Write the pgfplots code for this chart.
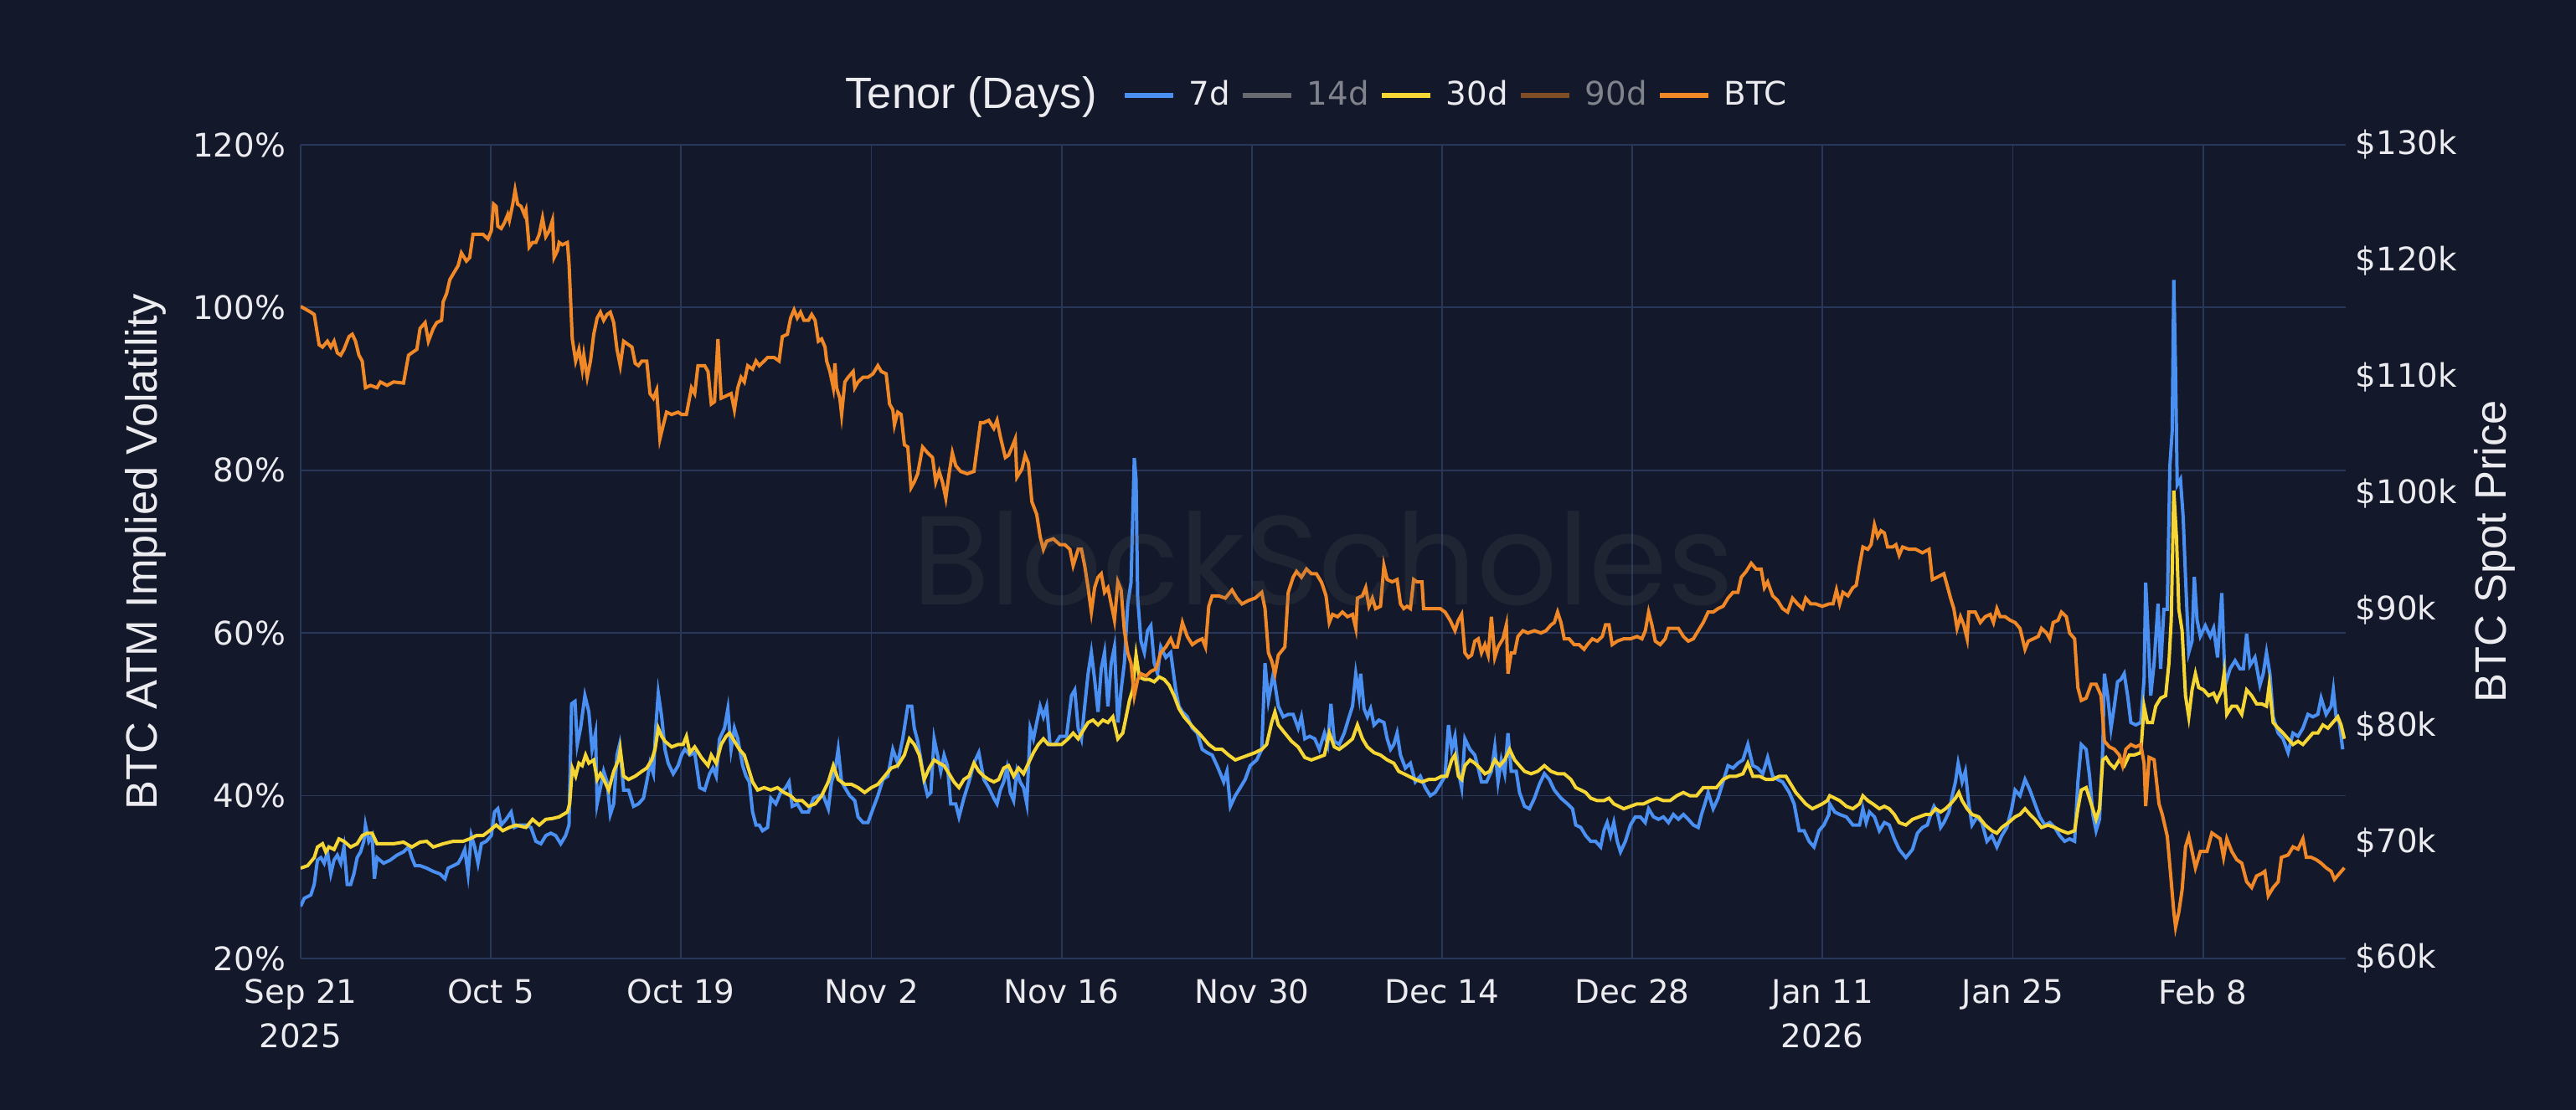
\documentclass[border=0pt]{standalone}
\usepackage{fontspec}
\setmainfont{DejaVu Sans}
\newfontfamily\libsans{Liberation Sans}
\newfontfamily\popfont{Poppins}
\usepackage{pgfplots}
\pgfplotsset{compat=1.18}
\usepackage{pgfplotstable}
\usetikzlibrary{backgrounds}
\definecolor{bg}{RGB}{19,25,42}
\definecolor{gridc}{RGB}{40,54,90}
\definecolor{c7}{RGB}{74,143,242}
\definecolor{c14}{RGB}{105,105,112}
\definecolor{c30}{RGB}{246,214,52}
\definecolor{c90}{RGB}{128,78,36}
\definecolor{cbtc}{RGB}{240,136,40}
\definecolor{legrey}{RGB}{128,130,140}
\definecolor{txt}{RGB}{236,236,240}
\definecolor{wm}{RGB}{100,100,104}
\newcommand\tickfont{\fontsize{9.7}{13.25}\selectfont}
\newcommand\titlefont{\libsans\fontsize{13.1}{15}\selectfont}

\pgfplotstableread{
x y
0 116.1
0.75 115.6
1.0 115.4
1.36 112.8
1.61 112.6
1.97 113.1
2.22 112.6
2.46 113.1
2.70 112.1
2.95 111.9
3.19 112.4
3.56 113.5
3.80 113.7
4.04 113.1
4.29 111.9
4.53 111.4
4.77 109.1
5.14 109.3
5.62 109.1
5.87 109.6
6.36 109.3
6.84 109.6
7.57 109.5
7.94 111.9
8.18 112.1
8.55 112.4
8.79 114.2
9.16 114.7
9.40 113.1
9.76 114.2
10.01 114.7
10.37 114.9
10.49 116.5
10.74 117.2
10.98 118.4
11.23 118.9
11.59 119.6
11.83 120.7
12.20 120.0
12.44 120.3
12.69 122.3
13.05 122.3
13.42 122.3
13.78 121.9
14.03 122.6
14.20 124.9
14.39 124.7
14.51 123.0
14.76 122.8
15.00 123.3
15.24 124.0
15.36 123.5
15.61 124.9
15.78 126.1
15.97 124.9
16.22 124.7
16.46 124.0
16.58 124.4
16.82 121.2
17.07 121.6
17.31 121.6
17.56 122.3
17.80 123.7
18.04 122.1
18.29 122.6
18.53 123.5
18.65 120.3
18.90 120.9
19.02 121.6
19.26 121.4
19.63 121.6
19.75 119.8
19.99 113.3
20.24 111.4
20.48 112.4
20.72 110.7
20.84 111.9
21.09 110.0
21.33 111.4
21.57 113.7
21.82 115.1
22.06 115.6
22.30 114.9
22.55 115.4
22.79 115.6
23.04 114.7
23.28 112.4
23.52 111.0
23.77 113.1
24.13 112.8
24.38 112.6
24.62 111.2
24.86 111.0
25.11 111.4
25.47 111.4
25.71 108.6
25.96 108.2
26.20 108.9
26.44 104.7
26.69 105.9
26.93 107.0
27.30 106.8
27.78 107.0
28.03 106.8
28.39 106.8
28.76 109.1
29.00 108.6
29.24 111.0
29.73 111.0
29.98 110.5
30.22 107.7
30.46 107.9
30.71 113.3
30.95 108.2
31.31 108.4
31.68 108.6
31.92 107.2
32.17 109.1
32.41 110.0
32.65 109.6
32.90 111.0
33.26 110.7
33.51 111.4
33.75 111.0
34.11 111.4
34.36 111.7
34.85 111.7
35.21 111.4
35.45 113.5
35.82 113.7
36.06 115.1
36.31 115.8
36.55 115.1
36.79 115.6
37.04 114.9
37.37 114.9
37.61 115.4
37.86 114.9
38.10 113.1
38.34 113.3
38.59 112.6
38.71 111.4
38.95 110.5
39.20 109.1
39.32 111.2
39.44 109.1
39.68 108.2
39.81 106.8
40.05 109.6
40.29 110.0
40.66 110.5
40.78 109.1
41.02 109.6
41.39 110.0
41.75 110.0
42.12 110.3
42.48 111.0
42.73 110.5
43.09 110.3
43.34 107.7
43.58 107.2
43.70 105.9
43.94 107.0
44.19 106.8
44.43 104.2
44.68 104.0
44.92 100.5
45.16 101.0
45.41 101.7
45.77 104.0
46.14 103.5
46.50 103.1
46.74 101.0
46.99 101.9
47.23 101.0
47.48 99.6
47.72 101.7
47.96 103.5
48.21 102.4
48.57 101.9
49.06 101.7
49.55 101.9
49.79 104.0
50.03 106.1
50.28 106.1
50.64 106.3
51.01 105.6
51.25 106.3
51.49 104.9
51.86 103.1
52.10 103.3
52.35 104.0
52.59 104.7
52.71 101.4
53.08 102.1
53.32 103.3
53.56 102.6
53.81 99.3
54.17 98.2
54.42 96.3
54.66 95.2
54.90 95.9
55.39 96.1
55.88 95.6
56.24 95.6
56.61 95.2
56.85 93.8
57.22 95.2
57.46 95.2
57.70 93.8
57.95 91.9
58.19 89.8
58.43 91.9
58.68 92.8
58.92 93.1
59.16 91.5
59.41 91.9
59.65 90.5
59.89 89.1
60.14 92.4
60.38 91.7
60.62 88.2
60.87 86.3
61.11 85.4
61.35 82.6
61.60 84.0
61.84 84.5
62.21 84.3
62.57 84.7
62.94 84.9
63.30 86.3
63.67 86.8
64.03 87.5
64.28 86.8
64.52 86.8
64.89 88.9
65.25 87.7
65.62 87.0
65.98 87.3
66.35 87.5
66.59 86.8
66.83 90.3
67.08 91.2
67.56 91.2
68.05 91.0
68.54 91.7
68.90 91.0
69.27 90.5
69.76 90.8
70.24 91.0
70.73 91.5
70.97 90.1
71.22 86.3
71.46 85.6
71.70 84.5
71.95 86.1
72.43 86.8
72.68 91.5
73.04 92.8
73.29 93.3
73.65 92.8
74.02 93.5
74.38 93.1
74.75 93.1
75.11 92.4
75.21 92.1
75.46 91.2
75.70 88.9
75.94 89.6
76.31 89.4
76.67 89.8
77.04 89.4
77.41 89.6
77.65 88.4
77.77 91.0
78.14 91.2
78.38 91.9
78.62 90.3
78.87 91.0
79.11 90.1
79.47 90.3
79.72 93.8
79.96 92.6
80.33 92.4
80.69 92.6
80.94 90.5
81.18 90.1
81.42 90.3
81.67 90.1
81.91 92.6
82.15 92.4
82.52 92.4
82.64 90.1
83.01 90.1
83.37 90.1
83.86 90.1
84.22 89.8
84.59 89.1
84.95 88.2
85.20 89.1
85.44 89.6
85.68 86.3
85.93 85.9
86.17 86.1
86.41 87.3
86.66 87.5
86.90 86.3
87.15 87.0
87.39 86.1
87.63 89.4
87.88 85.9
88.12 86.8
88.48 87.5
88.73 88.7
88.85 84.5
89.09 86.3
89.34 86.3
89.58 87.7
89.95 88.2
90.31 88.0
90.80 88.2
91.28 88.0
91.65 88.2
92.02 88.7
92.26 88.9
92.50 89.8
92.75 88.9
92.99 87.5
93.35 87.5
93.72 87.0
94.08 87.0
94.45 86.6
94.69 87.0
95.06 87.5
95.42 87.3
95.79 87.7
96.03 88.7
96.28 88.7
96.52 87.0
96.89 87.3
97.37 87.5
97.86 87.5
98.35 87.7
98.71 87.5
98.96 88.2
99.20 89.8
99.44 88.7
99.69 87.3
100.05 87.0
100.42 87.5
100.66 88.4
101.03 88.4
101.39 88.4
101.76 87.7
102.12 87.3
102.49 87.5
102.85 88.2
103.22 88.9
103.58 89.8
103.95 89.8
104.31 90.1
104.68 90.3
105.04 91.0
105.41 91.5
105.77 91.5
106.02 92.8
106.38 93.3
106.75 94.0
107.11 93.5
107.48 93.5
107.72 91.9
107.96 92.4
108.33 91.2
108.69 90.8
109.06 90.1
109.43 89.8
109.79 91.0
110.16 90.5
110.52 90.1
110.76 91.0
111.13 90.5
111.50 90.5
111.98 90.3
112.47 90.5
112.77 90.5
113.02 91.7
113.26 90.5
113.50 91.5
113.87 91.2
114.23 91.9
114.48 92.1
114.72 93.8
114.97 95.4
115.33 95.2
115.57 95.6
115.82 97.3
116.06 96.3
116.30 96.8
116.55 96.6
116.79 95.4
117.16 95.4
117.40 95.6
117.64 94.7
117.89 95.4
118.37 95.2
118.86 95.2
119.35 94.9
119.84 95.2
120.08 92.6
120.44 92.8
120.93 93.1
121.17 92.1
121.42 91.0
121.66 90.1
121.90 88.4
122.15 89.4
122.39 88.7
122.64 87.5
122.76 89.8
123.24 89.8
123.61 88.9
123.97 89.4
124.34 89.6
124.58 88.9
124.83 90.1
125.07 89.4
125.44 89.4
125.80 89.1
126.17 88.9
126.53 88.4
126.90 86.6
127.14 87.3
127.51 87.5
127.87 87.7
128.11 88.4
128.48 88.0
128.72 87.5
128.97 88.9
129.33 89.1
129.58 89.8
129.94 89.4
130.18 88.0
130.55 87.5
130.79 83.3
131.04 82.2
131.40 82.4
131.77 83.6
132.13 83.6
132.50 82.6
132.74 78.7
133.11 78.2
133.47 78.0
133.84 77.5
134.08 76.6
134.32 78.0
134.69 78.4
135.05 78.2
135.42 78.4
135.66 76.8
135.78 73.1
136.03 77.3
136.40 77.1
136.76 73.3
137.00 72.4
137.37 70.5
137.61 67.3
137.85 64.0
137.98 62.7
138.22 64.0
138.46 65.9
138.71 69.6
138.95 70.5
139.19 69.2
139.44 67.8
139.80 69.2
140.29 69.2
140.65 70.8
141.02 70.5
141.26 70.3
141.51 68.7
141.75 70.3
142.12 69.2
142.48 68.5
142.85 68.2
143.21 66.6
143.58 66.1
143.94 67.1
144.31 67.3
144.55 67.5
144.80 65.4
145.16 66.1
145.53 66.6
145.77 68.7
146.26 68.9
146.62 69.6
146.99 69.4
147.35 70.3
147.60 68.7
147.96 68.7
148.33 68.5
148.69 68.2
149.06 67.8
149.43 67.5
149.67 66.8
150.03 67.3
150.40 67.8
}\btc

\pgfplotstableread{
x y
0 26.4
0.27 27.4
0.75 27.8
1.0 29.1
1.24 32.1
1.49 32.4
1.73 31.7
1.97 33.1
2.22 30.4
2.46 32.1
2.70 32.7
2.95 31.7
3.19 33.7
3.43 29.1
3.68 29.1
3.92 30.4
4.16 32.4
4.41 33.1
4.65 34.4
4.77 36.4
5.02 34.4
5.26 35.1
5.43 29.8
5.62 32.4
6.11 31.7
6.60 32.1
7.09 32.7
7.57 33.1
7.94 33.7
8.18 32.4
8.43 31.4
8.79 31.4
9.28 31.1
9.76 30.7
10.25 30.4
10.62 29.8
10.86 31.1
11.23 31.4
11.59 31.7
11.83 32.4
12.08 33.4
12.32 30.4
12.56 35.1
12.81 33.7
13.05 31.7
13.30 34.1
13.66 34.4
14.03 35.1
14.27 38.0
14.51 38.4
14.76 36.4
15.12 37.1
15.49 38.0
15.73 36.1
16.10 36.4
16.58 36.4
16.95 36.1
17.31 34.4
17.68 34.1
18.04 35.1
18.41 35.4
18.77 35.1
19.14 34.1
19.50 35.1
19.75 36.4
19.94 51.3
20.19 51.6
20.36 46.3
20.60 48.3
20.92 52.3
21.21 50.3
21.45 45.7
21.70 47.7
21.82 39.0
22.06 41.0
22.30 43.0
22.55 41.7
22.79 37.7
23.04 39.0
23.28 45.0
23.47 46.3
23.77 40.7
24.13 40.7
24.50 38.7
24.86 39.0
25.23 39.7
25.47 41.7
25.71 44.0
25.96 42.7
26.13 48.3
26.32 52.6
26.57 49.7
26.81 45.7
27.05 44.0
27.42 42.7
27.78 43.7
28.03 45.0
28.27 45.7
28.64 45.0
29.00 45.3
29.37 41.0
29.73 40.7
30.10 42.7
30.34 43.4
30.58 42.4
30.83 47.0
31.19 48.3
31.44 50.7
31.68 45.7
31.92 48.3
32.17 47.0
32.53 43.7
32.78 42.4
33.02 41.7
33.26 38.0
33.51 36.4
33.75 36.4
33.99 35.7
34.36 36.1
34.60 39.7
34.97 39.0
35.33 40.4
35.70 41.0
35.94 41.7
36.18 38.7
36.55 39.0
36.91 38.0
37.37 38.0
37.74 39.7
38.10 40.0
38.47 40.0
38.83 38.4
39.07 41.7
39.32 43.0
39.56 45.7
39.81 41.7
40.05 41.0
40.41 40.0
40.78 39.4
41.02 37.4
41.39 36.7
41.75 36.7
42.12 38.4
42.48 40.0
42.85 42.0
43.21 42.4
43.58 45.7
43.94 44.0
44.31 47.0
44.68 51.0
44.97 51.0
45.16 48.3
45.41 46.7
45.65 44.4
45.89 41.7
46.14 40.0
46.38 40.4
46.62 47.0
46.87 45.0
47.11 43.0
47.35 45.0
47.60 43.7
47.84 39.0
48.21 39.0
48.45 37.4
48.81 39.7
49.18 41.7
49.55 44.0
49.91 45.3
50.28 42.0
50.64 41.0
51.01 39.7
51.25 39.0
51.49 40.7
51.74 41.7
51.98 43.4
52.22 40.4
52.47 39.4
52.71 43.0
52.95 41.7
53.20 41.0
53.44 39.0
53.69 48.3
53.93 47.0
54.17 49.0
54.42 51.0
54.66 49.7
54.90 51.0
55.15 46.3
55.51 46.3
55.88 47.3
56.36 47.3
56.73 52.3
56.97 53.0
57.22 48.3
57.46 47.0
57.70 51.0
57.95 55.0
58.19 57.6
58.43 54.3
58.68 50.3
58.92 55.6
59.16 57.6
59.41 51.0
59.65 56.3
59.89 58.3
60.14 49.0
60.38 53.0
60.62 56.3
60.87 63.6
61.11 66.2
61.35 81.5
61.48 78.9
61.60 64.3
61.84 59.0
62.09 57.6
62.33 60.3
62.57 60.9
62.82 56.3
63.06 55.0
63.30 58.3
63.67 57.0
64.03 57.6
64.40 53.0
64.64 51.0
64.89 50.3
65.25 49.7
65.62 48.3
65.98 47.7
66.35 45.7
66.71 45.3
67.08 45.0
67.44 43.7
67.69 42.7
67.93 41.7
68.17 43.0
68.42 38.7
68.78 40.0
69.15 41.0
69.51 42.0
69.88 43.7
70.36 44.4
70.73 45.7
70.97 56.3
71.22 51.7
71.58 55.0
71.95 51.0
72.31 49.7
72.68 50.0
73.04 50.0
73.41 48.3
73.65 49.7
73.90 47.0
74.26 47.3
74.63 47.0
74.97 45.7
75.34 47.7
75.58 46.3
75.82 51.3
76.07 46.7
76.43 46.3
76.80 47.7
77.16 49.7
77.41 51.0
77.65 55.0
77.89 52.3
78.01 55.0
78.26 50.7
78.50 49.7
78.74 50.7
78.99 48.7
79.35 49.3
79.72 49.0
79.96 47.0
80.21 45.7
80.45 46.3
80.69 47.7
80.94 45.0
81.30 43.4
81.67 44.0
82.03 41.7
82.40 42.4
82.76 41.0
83.13 40.0
83.49 40.4
83.86 41.4
84.22 42.4
84.47 48.7
84.71 45.7
84.95 47.3
85.20 43.0
85.44 41.0
85.68 47.0
86.05 45.7
86.41 45.0
86.66 43.4
86.90 41.7
87.27 41.7
87.63 43.0
87.88 46.0
88.12 41.7
88.36 44.4
88.61 42.7
88.85 47.7
89.09 43.0
89.46 43.0
89.70 40.4
90.07 38.7
90.43 38.4
90.80 39.7
91.16 41.4
91.53 42.7
91.89 42.0
92.26 40.7
92.75 39.7
93.23 39.0
93.60 38.4
93.84 36.4
94.21 36.1
94.57 35.1
94.94 34.4
95.30 34.4
95.67 33.7
95.91 35.7
96.15 36.7
96.40 35.1
96.64 36.7
96.89 34.4
97.13 33.1
97.49 34.4
97.86 36.4
98.22 37.4
98.59 37.4
98.95 36.7
99.20 38.4
99.56 37.4
99.93 37.1
100.29 37.4
100.66 36.7
101.02 37.7
101.39 37.1
101.76 37.7
102.12 37.1
102.49 36.4
102.85 36.1
103.09 37.7
103.34 39.0
103.58 40.4
103.95 38.4
104.31 39.7
104.68 41.7
105.04 43.7
105.41 43.4
105.77 44.0
106.14 44.4
106.50 46.3
106.87 43.7
107.23 43.4
107.60 42.7
107.96 44.7
108.33 42.4
108.69 42.0
109.06 41.7
109.55 40.4
109.91 39.0
110.28 35.7
110.64 35.7
111.01 34.4
111.37 33.7
111.74 35.7
112.10 36.4
112.47 37.7
112.53 39.0
112.90 38.0
113.26 37.7
113.75 37.4
114.23 36.4
114.72 36.4
114.97 38.4
115.21 36.7
115.45 38.0
115.82 37.4
116.18 35.7
116.55 36.7
116.91 36.4
117.28 34.7
117.64 33.4
118.13 32.4
118.62 33.4
118.98 35.4
119.35 36.1
119.71 36.4
119.96 37.7
120.20 38.7
120.44 38.0
120.69 36.1
120.93 36.7
121.30 38.0
121.54 40.0
121.78 41.7
121.98 44.0
122.27 41.7
122.51 43.0
122.76 39.0
123.00 36.4
123.37 37.4
123.73 36.7
124.10 34.4
124.46 35.1
124.83 33.7
125.19 35.1
125.56 36.1
125.92 38.4
126.17 40.7
126.53 40.0
126.90 42.0
127.26 40.7
127.63 39.0
127.99 37.4
128.36 36.4
128.72 36.7
129.09 36.1
129.45 35.1
129.82 34.4
130.18 34.7
130.55 34.4
130.79 41.7
131.04 46.3
131.40 45.7
131.65 42.4
131.89 37.7
132.13 35.7
132.38 37.1
132.62 45.7
132.74 55.0
132.98 52.3
133.23 48.3
133.47 51.0
133.71 54.0
133.96 54.3
134.20 55.0
134.45 52.3
134.69 49.0
135.05 48.7
135.42 49.0
135.66 54.3
135.78 66.2
135.91 61.6
136.15 52.3
136.40 56.3
136.69 63.6
136.88 55.6
137.12 62.9
137.37 62.9
137.56 80.5
137.73 84.8
137.85 103.4
137.98 92.1
138.10 78.2
138.34 78.9
138.54 74.2
138.71 66.9
138.95 57.6
139.19 59.0
139.36 66.9
139.56 61.6
139.80 59.6
140.17 60.9
140.53 59.6
140.78 60.6
141.07 57.0
141.38 64.9
141.63 53.6
141.99 55.6
142.36 56.6
142.72 55.6
142.97 55.6
143.21 59.9
143.45 56.0
143.82 57.0
144.19 53.6
144.43 55.0
144.67 57.6
144.92 55.0
145.16 49.7
145.53 47.7
145.89 47.0
146.26 45.3
146.62 47.7
146.99 47.3
147.35 48.3
147.72 50.0
148.08 49.7
148.45 50.0
148.69 52.0
149.06 50.0
149.43 51.0
149.59 53.0
149.79 49.7
150.03 49.0
150.28 45.7
}\sevend

\pgfplotstableread{
x y
0 31.1
0.51 31.4
1.0 32.4
1.24 33.7
1.61 34.1
1.85 33.1
2.09 33.7
2.46 33.4
2.82 34.7
3.19 34.4
3.68 33.7
4.16 34.1
4.53 35.1
4.89 35.4
5.26 35.4
5.62 34.1
6.11 34.1
6.84 34.1
7.57 34.3
8.18 33.7
8.79 34.3
9.28 34.4
9.76 33.7
10.49 34.1
11.23 34.4
11.96 34.4
12.44 34.7
12.93 35.1
13.42 35.1
13.90 35.7
14.39 36.4
14.88 35.7
15.36 36.1
15.85 36.4
16.58 36.1
17.07 37.1
17.56 36.4
18.04 37.1
18.53 37.2
19.02 37.4
19.63 38.0
19.80 39.0
19.99 43.4
20.24 42.4
20.48 44.0
20.72 43.7
20.97 45.0
21.21 44.0
21.57 44.4
21.82 42.0
22.06 42.7
22.30 42.0
22.67 40.7
23.04 43.0
23.40 44.4
23.52 45.7
23.77 42.4
24.13 42.0
24.62 42.4
25.11 43.0
25.47 43.4
25.84 44.4
26.08 45.7
26.32 48.3
26.57 47.3
26.81 46.7
27.30 46.0
27.78 46.3
28.15 46.3
28.39 47.3
28.64 45.3
29.00 46.0
29.49 44.7
29.98 43.7
30.22 45.0
30.58 44.0
30.95 46.3
31.31 47.3
31.56 47.7
31.92 46.7
32.29 45.7
32.65 45.0
33.02 43.0
33.26 41.7
33.63 40.7
34.11 41.0
34.60 40.7
35.09 41.0
35.57 40.4
36.06 40.0
36.43 39.4
36.91 39.4
37.37 38.7
37.86 39.0
38.34 40.0
38.83 41.7
39.20 43.7
39.56 42.0
40.05 41.4
40.54 41.4
41.02 41.0
41.51 40.4
42.00 41.0
42.48 41.4
42.97 42.4
43.46 43.4
43.94 43.7
44.43 45.0
44.80 47.0
45.16 46.3
45.53 45.0
45.89 42.0
46.26 43.4
46.62 44.4
46.99 44.0
47.35 43.7
47.72 42.7
48.08 41.7
48.45 41.0
48.81 42.0
49.18 42.4
49.55 44.0
49.91 43.0
50.28 42.4
50.64 42.0
51.01 41.7
51.37 42.0
51.74 43.4
52.10 43.7
52.47 42.4
52.83 43.4
53.20 42.7
53.56 44.0
53.93 45.3
54.29 46.3
54.66 47.0
55.02 46.3
55.51 46.3
56.00 46.3
56.48 47.0
56.85 47.7
57.22 47.0
57.58 48.0
57.95 49.0
58.31 49.3
58.68 48.7
59.04 49.3
59.41 49.0
59.77 49.7
60.14 47.0
60.50 47.7
60.75 49.7
60.99 51.7
61.23 53.0
61.48 57.3
61.72 54.6
62.09 54.3
62.45 54.3
62.82 54.0
63.18 54.6
63.55 54.3
63.91 53.6
64.28 52.3
64.64 50.7
65.01 49.7
65.37 49.0
65.74 48.3
66.10 47.7
66.47 47.0
66.83 46.3
67.32 45.7
67.81 45.7
68.29 45.0
68.78 44.4
69.27 44.7
69.76 45.0
70.24 45.3
70.73 45.7
71.09 46.3
71.46 49.0
71.70 50.3
71.95 48.7
72.43 47.7
72.92 46.7
73.41 46.0
73.90 44.7
74.38 44.4
74.87 44.7
75.34 45.0
75.70 47.7
76.07 46.0
76.43 45.7
76.92 46.3
77.41 47.0
77.77 48.7
78.14 47.0
78.50 46.0
78.99 45.3
79.47 45.0
79.96 44.4
80.45 44.0
80.81 43.0
81.18 42.7
81.54 42.4
82.03 42.0
82.52 41.7
83.01 42.0
83.49 42.0
83.98 42.4
84.34 42.4
84.71 44.4
84.95 45.0
85.20 42.4
85.44 42.0
85.68 43.7
86.05 44.4
86.41 44.0
86.78 43.4
87.15 42.7
87.51 43.0
87.88 44.4
88.24 43.7
88.61 44.4
88.97 45.7
89.34 44.4
89.70 43.7
90.07 43.0
90.55 42.7
91.04 43.0
91.53 43.7
92.02 43.0
92.50 42.7
92.99 42.7
93.48 42.0
93.84 41.0
94.21 40.7
94.57 40.4
94.94 39.7
95.42 39.4
95.91 39.4
96.28 39.7
96.64 39.0
97.01 38.7
97.37 38.4
97.86 38.7
98.35 39.0
98.83 39.0
99.32 39.4
99.81 39.7
100.29 39.4
100.78 39.4
101.27 40.0
101.76 40.4
102.24 40.0
102.73 40.0
103.22 41.0
103.70 41.0
104.19 41.0
104.68 42.0
105.16 42.4
105.65 42.4
106.14 42.7
106.50 44.0
106.87 42.4
107.36 42.4
107.84 42.0
108.33 42.0
108.82 42.4
109.30 42.4
109.67 41.4
110.03 40.4
110.40 39.7
110.76 39.0
111.25 38.4
111.62 38.7
111.98 39.0
112.35 39.4
112.53 40.0
112.90 39.7
113.26 39.4
113.75 38.7
114.23 38.4
114.72 39.0
114.97 40.0
115.33 39.4
115.70 39.0
116.18 38.4
116.55 38.7
116.91 38.4
117.28 37.7
117.64 36.7
118.13 36.4
118.62 37.1
119.10 37.4
119.59 37.7
119.96 37.7
120.32 38.4
120.69 38.0
121.05 38.4
121.42 39.0
121.78 39.7
122.03 40.4
122.27 39.4
122.64 38.4
123.00 37.7
123.49 37.4
123.97 36.4
124.46 35.7
124.83 35.4
125.19 36.1
125.68 36.7
126.17 37.4
126.53 37.7
126.90 38.4
127.26 37.7
127.63 37.1
128.11 36.1
128.60 36.4
129.09 36.1
129.58 35.7
130.06 35.4
130.55 35.7
130.79 38.4
131.04 40.7
131.40 41.0
131.77 39.0
132.13 37.1
132.38 38.4
132.62 44.4
132.86 44.7
133.11 44.0
133.47 43.4
133.84 44.4
134.20 43.7
134.57 45.0
134.93 45.0
135.42 45.3
135.66 51.0
135.91 49.0
136.27 49.0
136.52 51.0
136.88 52.0
137.25 52.3
137.49 56.3
137.66 61.6
137.85 77.5
138.05 71.6
138.22 62.9
138.46 60.3
138.71 52.3
138.95 49.7
139.19 53.0
139.44 55.0
139.68 53.3
140.05 53.0
140.41 52.3
140.78 52.6
141.02 51.7
141.38 53.0
141.55 55.0
141.75 50.0
142.12 51.0
142.48 51.0
142.85 50.0
143.21 53.0
143.58 52.3
143.94 51.3
144.31 51.3
144.67 51.0
144.87 53.6
145.16 49.0
145.53 48.3
145.89 47.7
146.26 47.0
146.62 46.3
146.99 46.7
147.35 46.3
147.72 47.0
148.08 47.7
148.45 47.7
148.82 48.7
149.19 48.3
149.55 49.0
149.92 49.7
150.16 48.7
150.40 47.0
}\thirtyd

\begin{document}
\begin{tikzpicture}
\begin{axis}[
  at={(0,0)}, anchor=south west,
  width=610.5pt, height=243pt, scale only axis,
  xmin=0, xmax=150.5, ymin=20, ymax=120,
  axis line style={draw=none},
  grid=major, grid style={color=gridc, line width=0.45pt},
  major tick length=0pt,
  xtick={0,14,28,42,56,70,84,98,112,126,140},
  xticklabels={Sep 21\\2025, Oct 5, Oct 19, Nov 2, Nov 16, Nov 30, Dec 14, Dec 28, Jan 11\\2026, Jan 25, Feb 8},
  ytick={20,40,60,80,100,120},
  yticklabels={20\%,40\%,60\%,80\%,100\%,120\%},
  xtick pos=bottom, ytick pos=left,
  ticklabel style={font=\tickfont, text=txt, inner sep=0pt},
  xticklabel style={align=center, anchor=north, yshift=-6pt},
  yticklabel style={anchor=east, xshift=-4.25pt},
  ylabel={BTC ATM Implied Volatility},
  every axis y label/.style={at={(rel axis cs:0,0.5)}, xshift=-46.25pt, rotate=90, anchor=center, font=\titlefont, text=txt},
  legend columns=-1,
  legend style={at={(0.4934,1.0607)}, anchor=center, draw=none, fill=none,
    font=\tickfont, text=txt, inner sep=0pt, nodes={inner sep=0pt},
    /tikz/every even column/.append style={column sep=3.2pt},
    /tikz/every odd column/.append style={column sep=4.0pt}},
  legend image code/.code={\draw[#1, line width=1.3pt] (0pt,0pt) -- (14.5pt,0pt);},
]
\addlegendimage{empty legend}
\addlegendentry{\titlefont Tenor (Days)\hspace*{4.5pt}}
\addlegendimage{c7}
\addlegendentry{7d}
\addlegendimage{c14}
\addlegendentry{\textcolor{legrey}{14d}}
\addlegendimage{c30}
\addlegendentry{30d}
\addlegendimage{c90}
\addlegendentry{\textcolor{legrey}{90d}}
\addlegendimage{cbtc}
\addlegendentry{BTC}
\addplot[c7, line width=1.0pt, forget plot] table[x=x,y=y] {\sevend};
\addplot[c30, line width=1.0pt, forget plot] table[x=x,y=y] {\thirtyd};
\end{axis}

\begin{axis}[
  at={(0,0)}, anchor=south west,
  width=610.5pt, height=243pt, scale only axis,
  xmin=0, xmax=150.5, ymin=60, ymax=130,
  hide x axis,
  axis y line*=right,
  axis line style={draw=none},
  major tick length=0pt,
  ytick={60,70,80,90,100,110,120,130},
  yticklabels={\$60k,\$70k,\$80k,\$90k,\$100k,\$110k,\$120k,\$130k},
  ticklabel style={font=\tickfont, text=txt, inner sep=0pt},
  yticklabel style={anchor=west, xshift=2.75pt},
  ylabel={BTC Spot Price},
  every axis y label/.style={at={(rel axis cs:1,0.5)}, xshift=44.5pt, rotate=90, anchor=center, font=\titlefont, text=txt},
]
\addplot[cbtc, line width=1.0pt] table[x=x,y=y] {\btc};
\end{axis}

% watermark overlay
\node[text=wm, text opacity=0.17, inner sep=0pt] at (305.25pt,119.5pt) {\resizebox{245pt}{!}{\popfont BlockScholes}};

\begin{pgfonlayer}{background}
\fill[bg] (-89.75pt,-45.25pt) rectangle (679.25pt,286.25pt);
\end{pgfonlayer}
\pgfresetboundingbox
\useasboundingbox (-89.75pt,-45.25pt) rectangle (679.25pt,286.25pt);
\end{tikzpicture}
\end{document}
